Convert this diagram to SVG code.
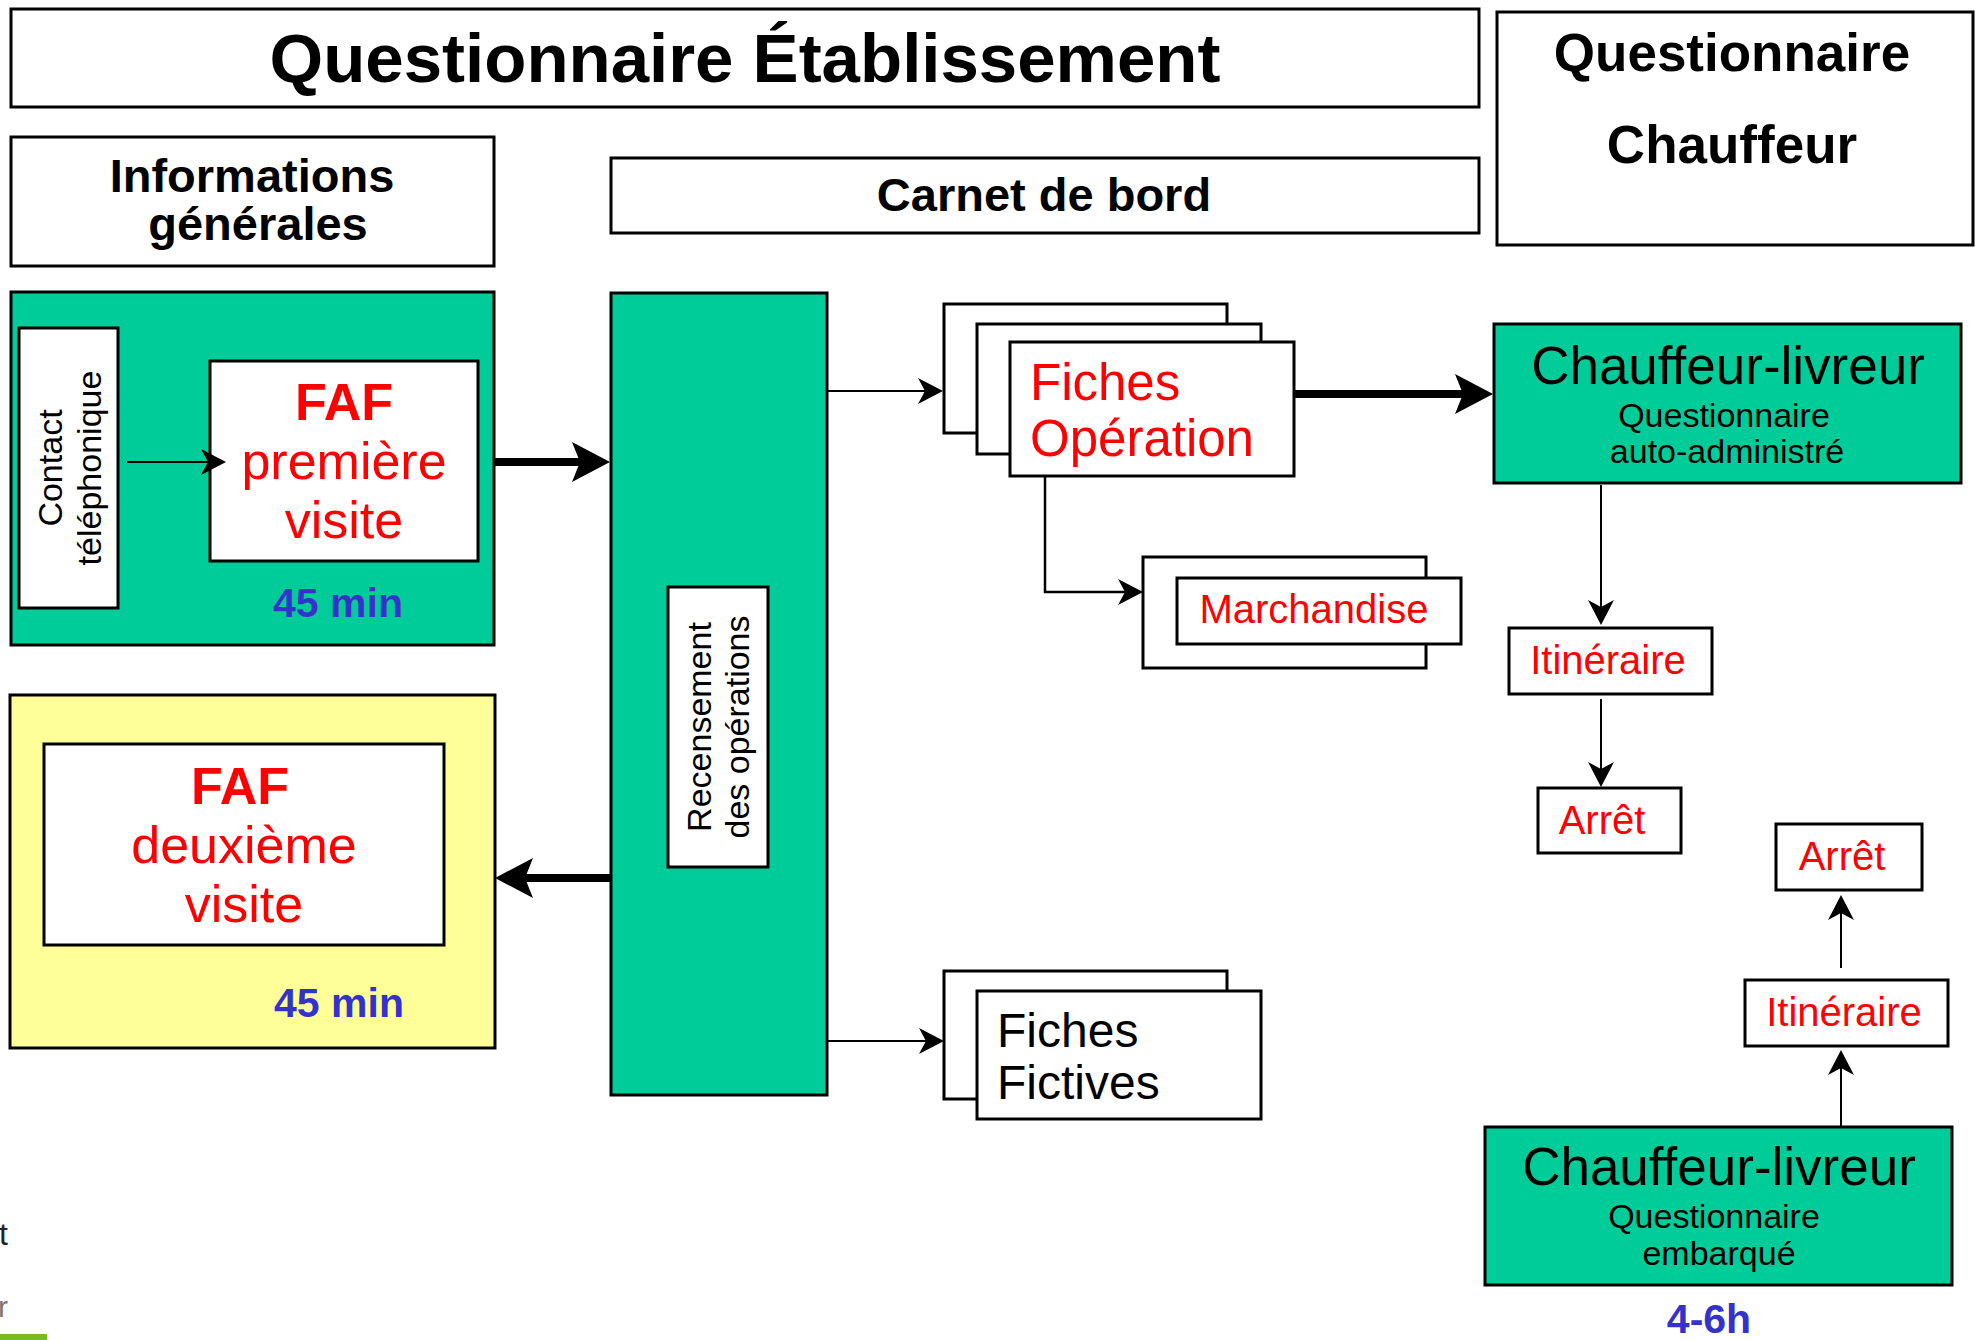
<svg xmlns="http://www.w3.org/2000/svg" width="1975" height="1340" viewBox="0 0 1975 1340">
<defs>
<style>
text{font-family:"Liberation Sans",Arial,sans-serif}
.box{fill:#fff;stroke:#000;stroke-width:3}
.green{fill:#00CC99;stroke:#000;stroke-width:3}
.yellow{fill:#FFFF99;stroke:#000;stroke-width:3}
.hdr{font-weight:bold;fill:#000;text-anchor:middle}
.red{fill:#FF0000}
.blk{fill:#000}
.mid{text-anchor:middle}
.bold{font-weight:bold}
.blue{fill:#3333CC;font-weight:bold;text-anchor:middle;font-size:41px}
.thin{fill:none;stroke:#000;stroke-width:2;marker-end:url(#ah)}
.thick{fill:none;stroke:#000;stroke-width:8;marker-end:url(#ahb)}
</style>
<marker id="ah" markerUnits="userSpaceOnUse" viewBox="-8 -14 27 28" refX="0" refY="0" markerWidth="27" markerHeight="28" orient="auto" overflow="visible">
<path d="M18,0 L-7,-13 L0,0 L-7,13 Z" fill="#000"/>
</marker>
<marker id="ahb" markerUnits="userSpaceOnUse" viewBox="-9 -21 40 42" refX="0" refY="0" markerWidth="40" markerHeight="42" orient="auto" overflow="visible">
<path d="M30,0 L-8,-20 L0,0 L-8,20 Z" fill="#000"/>
</marker>
</defs>
<rect width="1975" height="1340" fill="#fff"/>

<g id="title">
<rect class="box" x="11" y="9" width="1468" height="98"/>
<text class="hdr" x="745" y="82" font-size="69">Questionnaire Établissement</text>
</g>
<g id="questionnaire-chauffeur">
<rect class="box" x="1497" y="12" width="476" height="233"/>
<text class="hdr" x="1732" y="71" font-size="53">Questionnaire</text>
<text class="hdr" x="1732" y="163" font-size="53">Chauffeur</text>
</g>
<g id="informations">
<rect class="box" x="11" y="137" width="483" height="129"/>
<text class="hdr" x="252" y="192" font-size="47">Informations</text>
<text class="hdr" x="258" y="240" font-size="47">générales</text>
</g>
<g id="carnet">
<rect class="box" x="611" y="158" width="868" height="75"/>
<text class="hdr" x="1044" y="211" font-size="47">Carnet de bord</text>
</g>

<g id="visite1">
<rect class="green" x="11" y="292" width="483" height="353"/>
<text class="blue" x="338" y="617">45 min</text>
</g>
<g id="contact">
<rect class="box" x="19" y="328" width="99" height="280"/>
<g transform="translate(0,468) rotate(-90)" font-size="34" class="blk">
<text class="mid" x="0" y="62">Contact</text>
<text class="mid" x="0" y="101">téléphonique</text>
</g>
</g>
<g id="faf1">
<rect class="box" x="210" y="361" width="268" height="200"/>
<text class="red mid bold" x="344" y="420" font-size="52">FAF</text>
<text class="red mid" x="344" y="479" font-size="52">première</text>
<text class="red mid" x="344" y="538" font-size="52">visite</text>
</g>

<g id="visite2">
<rect class="yellow" x="10" y="695" width="485" height="353"/>
<text class="blue" x="339" y="1017">45 min</text>
</g>
<g id="faf2">
<rect class="box" x="44" y="744" width="400" height="201"/>
<text class="red mid bold" x="240" y="804" font-size="52">FAF</text>
<text class="red mid" x="244" y="863" font-size="52">deuxième</text>
<text class="red mid" x="244" y="922" font-size="52">visite</text>
</g>

<g id="recensement">
<rect class="green" x="611" y="293" width="216" height="802"/>
<rect class="box" x="668" y="587" width="100" height="280"/>
<g transform="translate(0,727) rotate(-90)" font-size="34" class="blk">
<text class="mid" x="0" y="711">Recensement</text>
<text class="mid" x="0" y="749">des opérations</text>
</g>
</g>

<g id="fiches-operation">
<rect class="box" x="944" y="304" width="283" height="129"/>
<rect class="box" x="977" y="324" width="284" height="130"/>
<rect class="box" x="1010" y="342" width="284" height="134"/>
<text class="red" x="1030" y="400" font-size="51">Fiches</text>
<text class="red" x="1030" y="456" font-size="51">Opération</text>
</g>

<g id="marchandise">
<rect class="box" x="1143" y="557" width="283" height="111"/>
<rect class="box" x="1177" y="578" width="284" height="66"/>
<text class="red mid" x="1314" y="623" font-size="40">Marchandise</text>
</g>

<g id="fiches-fictives">
<rect class="box" x="944" y="971" width="283" height="128"/>
<rect class="box" x="977" y="991" width="284" height="128"/>
<text class="blk" x="997" y="1047" font-size="48">Fiches</text>
<text class="blk" x="997" y="1099" font-size="48">Fictives</text>
</g>

<g id="chauffeur-auto">
<rect class="green" x="1494" y="324" width="467" height="159"/>
<text class="blk mid" x="1728" y="384" font-size="53">Chauffeur-livreur</text>
<text class="blk mid" x="1724" y="427" font-size="34">Questionnaire</text>
<text class="blk mid" x="1727" y="463" font-size="34">auto-administré</text>
</g>
<g id="itineraire1">
<rect class="box" x="1509" y="628" width="203" height="66"/>
<text class="red mid" x="1608" y="674" font-size="40">Itinéraire</text>
</g>
<g id="arret1">
<rect class="box" x="1538" y="788" width="143" height="65"/>
<text class="red mid" x="1602" y="834" font-size="40">Arrêt</text>
</g>

<g id="chauffeur-embarque">
<rect class="green" x="1485" y="1127" width="467" height="158"/>
<text class="blk mid" x="1719" y="1185" font-size="53">Chauffeur-livreur</text>
<text class="blk mid" x="1714" y="1228" font-size="34">Questionnaire</text>
<text class="blk mid" x="1719" y="1265" font-size="34">embarqué</text>
<text class="blue" x="1709" y="1333">4-6h</text>
</g>
<g id="itineraire2">
<rect class="box" x="1745" y="980" width="203" height="66"/>
<text class="red mid" x="1844" y="1026" font-size="40">Itinéraire</text>
</g>
<g id="arret2">
<rect class="box" x="1776" y="824" width="146" height="66"/>
<text class="red mid" x="1842" y="870" font-size="40">Arrêt</text>
</g>

<g id="connectors">
<path class="thin" d="M127,462 H208"/>
<path class="thick" d="M494,462 H580"/>
<path class="thick" d="M611,878 H525"/>
<path class="thin" d="M827,391 H925"/>
<path class="thin" d="M827,1041 H926"/>
<path class="thick" d="M1294,394 H1463"/>
<path class="thin" style="stroke-width:2.5" d="M1045,476 V592 H1125"/>
<path class="thin" d="M1601,485 V607"/>
<path class="thin" d="M1601,699 V769"/>
<path class="thin" d="M1841,1127 V1068"/>
<path class="thin" d="M1841,968 V913"/>
</g>

<g id="edge-fragments">
<text x="-1" y="1245" font-size="32" fill="#222">t</text>
<text x="-2" y="1317" font-size="30" fill="#777">r</text>
<rect x="0" y="1334" width="47" height="6" fill="#77BB22"/>
</g>
</svg>
